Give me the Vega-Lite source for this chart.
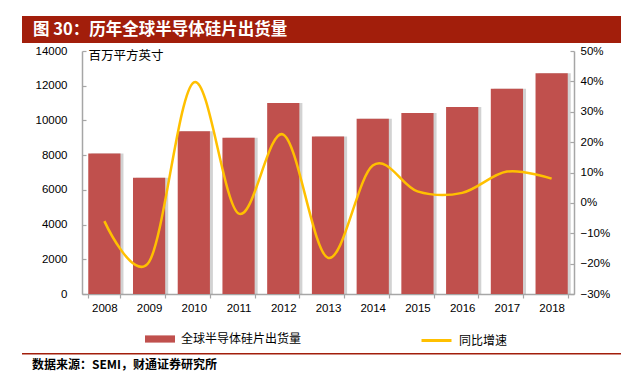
{
  "$schema": "https://vega.github.io/schema/vega-lite/v6.json",
  "padding": {"left": 22, "top": 16, "right": 0, "bottom": 0},
  "spacing": 2,
  "config": {"font": "Liberation Sans", "view": {"stroke": null}},
  "vconcat": [
    {
      "width": 599,
      "height": 27,
      "view": {"fill": "#A21E0B", "stroke": null},
      "data": {"values": [{"t": "图 30：历年全球半导体硅片出货量"}]},
      "mark": {"type": "text", "align": "left", "baseline": "middle", "font": "Noto Sans CJK SC", "fontWeight": "bold", "fontSize": 16.5, "color": "white"},
      "encoding": {"text": {"field": "t"}, "x": {"value": 11}, "y": {"value": 14}}
    },
    {
      "width": 552,
      "height": 243,
      "data": {"values": [
        {"year": "2008", "shipments": 8100, "growth": -0.06},
        {"year": "2009", "shipments": 6700, "growth": -0.194},
        {"year": "2010", "shipments": 9370, "growth": 0.397},
        {"year": "2011", "shipments": 9000, "growth": -0.035},
        {"year": "2012", "shipments": 11000, "growth": 0.225},
        {"year": "2013", "shipments": 9070, "growth": -0.181},
        {"year": "2014", "shipments": 10100, "growth": 0.123},
        {"year": "2015", "shipments": 10430, "growth": 0.038},
        {"year": "2016", "shipments": 10780, "growth": 0.033},
        {"year": "2017", "shipments": 11820, "growth": 0.103},
        {"year": "2018", "shipments": 12720, "growth": 0.08}
      ]},
      "encoding": {
        "x": {
          "field": "year", "type": "nominal", "title": null,
          "scale": {"range": [60, 552], "paddingInner": 0.28, "paddingOuter": 0.14},
          "axis": {"labelAngle": 0, "tickBand": "extent", "domainColor": "#A6A6A6", "domainWidth": 1.5, "tickColor": "#A6A6A6", "tickWidth": 1.2, "tickSize": 4, "labelPadding": 4, "labelFontSize": 11.5, "labelColor": "#000000", "labelFont": "Liberation Sans"}
        }
      },
      "layer": [
        {
          "mark": {"type": "bar", "color": "#7F7F7F", "opacity": 0.35},
          "encoding": {
            "y": {"field": "shipments", "type": "quantitative", "scale": {"domain": [0, 14000]}, "axis": null},
            "xOffset": {"value": 3}
          }
        },
        {
          "mark": {"type": "bar", "color": "#C0504D"},
          "encoding": {
            "y": {
              "field": "shipments", "type": "quantitative",
              "scale": {"domain": [0, 14000]},
              "axis": {"offset": -60, "title": "百万平方英寸", "titleAngle": 0, "titleX": 6, "titleY": 4, "titleAlign": "left", "titleBaseline": "middle", "titleFont": "Noto Sans CJK SC", "titleFontSize": 12.5, "titleFontWeight": "normal", "titleColor": "#000000", "format": "d",
                "values": [0, 2000, 4000, 6000, 8000, 10000, 12000, 14000], "grid": false, "domainColor": "#A6A6A6", "domainWidth": 1.5, "tickColor": "#A6A6A6", "tickWidth": 1.2, "tickSize": -4, "labelPadding": 19, "labelFontSize": 11.5, "labelColor": "#000000"}
            },
            "fill": {"datum": "全球半导体硅片出货量", "scale": {"range": ["#C0504D"]},
              "legend": {"title": null, "orient": "none", "legendX": 119, "legendY": 269, "padding": 4, "symbolType": "M-1,-0.24H1V0.24H-1Z", "symbolSize": 900, "symbolStrokeWidth": 0, "labelFont": "Noto Sans CJK SC", "labelFontSize": 12, "labelColor": "#000000", "labelOffset": 6}}
          }
        },
        {
          "mark": {"type": "line", "interpolate": "cardinal", "strokeWidth": 2.5},
          "encoding": {
            "y": {
              "field": "growth", "type": "quantitative",
              "scale": {"domain": [-0.3, 0.5]},
              "axis": {"orient": "right", "title": null, "format": ".0%", "values": [-0.3, -0.2, -0.1, 0, 0.1, 0.2, 0.3, 0.4, 0.5], "grid": false, "domainColor": "#A6A6A6", "domainWidth": 1.5, "tickColor": "#A6A6A6", "tickWidth": 1.2, "tickSize": -4, "labelPadding": 10, "labelFontSize": 11.5, "labelColor": "#000000"}
            },
            "stroke": {"datum": "同比增速", "scale": {"range": ["#FFC000"]},
              "legend": {"title": null, "orient": "none", "legendX": 394, "legendY": 269, "padding": 4, "symbolType": "stroke", "symbolSize": 900, "symbolStrokeWidth": 3, "labelFont": "Noto Sans CJK SC", "labelFontSize": 12, "labelColor": "#000000", "labelOffset": 6}}
          }
        }
      ],
      "resolve": {"scale": {"y": "independent", "fill": "independent", "stroke": "independent"}}
    },
    {
      "width": 599,
      "height": 1.5,
      "view": {"fill": "#A21E0B", "stroke": null},
      "data": {"values": [{"t": "数据来源：SEMI，财通证券研究所"}]},
      "mark": {"type": "text", "align": "left", "baseline": "middle", "font": "Noto Sans CJK SC", "fontWeight": "bold", "fontSize": 12, "color": "#000000"},
      "encoding": {"text": {"field": "t"}, "x": {"value": 10}, "y": {"value": 12}}
    }
  ]
}
